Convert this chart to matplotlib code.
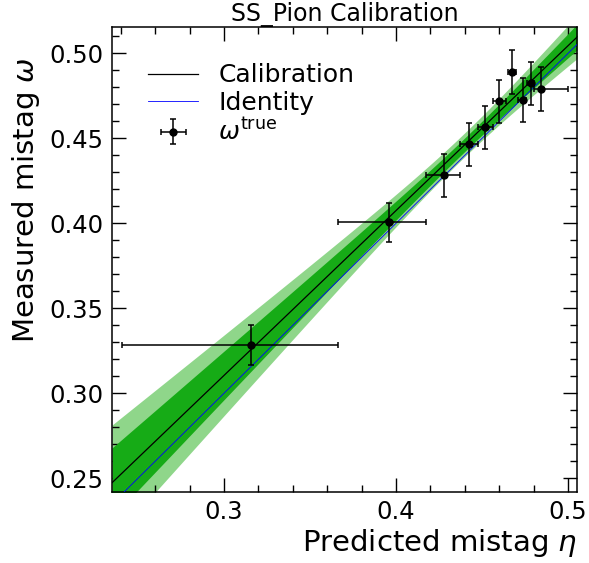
import numpy as np
import matplotlib
matplotlib.use("Agg")
import matplotlib.pyplot as plt
from matplotlib.ticker import MultipleLocator, AutoMinorLocator, FormatStrFormatter

# Binned mistag measurement: predicted eta per bin (with bin edges) and measured omega
eta = [0.3157, 0.3961, 0.4281, 0.4424, 0.4519, 0.4597, 0.4674, 0.4737, 0.4783, 0.4841]
eta_lo = [0.2409, 0.3663, 0.4173, 0.4372, 0.4478, 0.4562, 0.4652, 0.4712, 0.4762, 0.4802]
eta_hi = [0.3663, 0.4173, 0.4372, 0.4478, 0.4562, 0.4638, 0.4697, 0.4758, 0.4802, 0.5002]
omega = [0.3285, 0.4006, 0.4282, 0.4465, 0.4566, 0.4718, 0.4890, 0.4724, 0.4824, 0.4788]
omega_err = [0.0118, 0.0115, 0.0126, 0.0126, 0.0126, 0.0126, 0.0128, 0.0130, 0.0128, 0.0129]

# Linear calibration omega = p0 + p1 * (eta - eta_mean), with parameter uncertainties
eta_mean = 0.44
p0 = 0.4463
p1 = 0.970
# inner (stat) and outer (total) uncertainty components of (p0, p1)
band_inner = (0.0040, 0.098)
band_outer = (0.0070, 0.162)

xlim = (0.2349, 0.5052)
ylim = (0.2419, 0.5155)

title = "SS_Pion Calibration"
xlabel = r"Predicted mistag $\eta$"
ylabel = r"Measured mistag $\omega$"

fig = plt.figure(figsize=(5.89, 5.63), dpi=100)
ax = fig.add_axes([0.1902, 0.1261, 0.7894, 0.8259])

x = np.linspace(xlim[0], xlim[1], 400)
cal = p0 + p1 * (x - eta_mean)


def band_width(sig):
    s0, s1 = sig
    return np.sqrt(s0 ** 2 + (s1 * (x - eta_mean)) ** 2)


w_out = band_width(band_outer)
w_in = band_width(band_inner)
ax.fill_between(x, cal - w_out, cal + w_out, color="#8fd68a", lw=0, zorder=1)
ax.fill_between(x, cal - w_in, cal + w_in, color="#16ab16", lw=0, zorder=2)

ax.plot(x, cal, color="black", lw=0.9, label="Calibration", zorder=3)
ax.plot(x, x, color="blue", lw=0.6, label="Identity", zorder=3)

eta_a = np.array(eta)
xerr = [eta_a - np.array(eta_lo), np.array(eta_hi) - eta_a]
ax.errorbar(eta, omega, xerr=xerr, yerr=omega_err, fmt="o", color="black",
            ms=5, elinewidth=1.1, capsize=2.3, capthick=1.1,
            label=r"$\omega^{\mathrm{true}}$", zorder=4)

ax.set_xlim(*xlim)
ax.set_ylim(*ylim)

ax.xaxis.set_major_locator(MultipleLocator(0.1))
ax.xaxis.set_minor_locator(AutoMinorLocator(5))
ax.yaxis.set_major_locator(MultipleLocator(0.05))
ax.yaxis.set_minor_locator(AutoMinorLocator(5))
ax.xaxis.set_major_formatter(FormatStrFormatter("%.1f"))
ax.yaxis.set_major_formatter(FormatStrFormatter("%.2f"))

ax.tick_params(which="both", direction="in", top=True, right=True, labelsize=17.5)
ax.tick_params(which="major", length=10, width=1.0, pad=6)
ax.tick_params(which="minor", length=5, width=1.0)
for sp in ax.spines.values():
    sp.set_linewidth(1.1)

ax.set_xlabel(xlabel, fontsize=21, loc="right", labelpad=2)
ax.set_ylabel(ylabel, fontsize=21, ha="right")
ax.yaxis.set_label_coords(-0.15, 0.935)
ax.set_title(title, fontsize=17, pad=3)

ax.legend(loc="upper left", bbox_to_anchor=(0.03, 0.97), frameon=False,
          fontsize=18, labelspacing=0.15, handlelength=2.0, handletextpad=0.8)

fig.savefig("out.png", dpi=100)
